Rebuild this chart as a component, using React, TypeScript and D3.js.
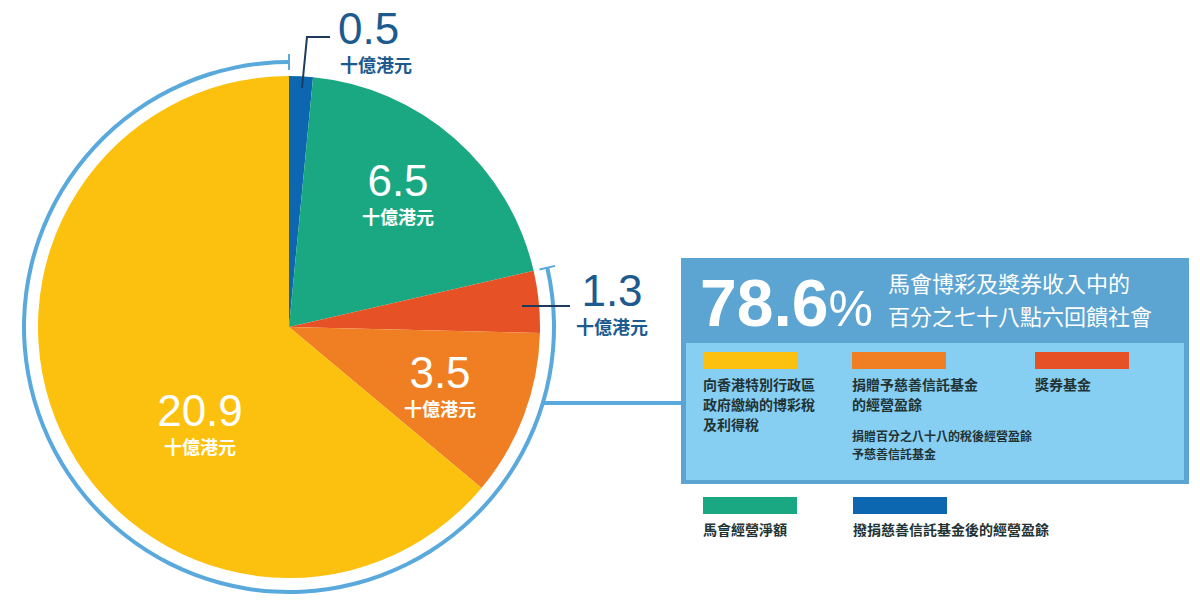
import * as d3 from "d3";

const categories = ["撥捐慈善信託基金後的經營盈餘", "馬會經營淨額", "獎券基金", "捐贈予慈善信託基金的經營盈餘", "向香港特別行政區政府繳納的博彩稅及利得稅"];
const values = [0.5, 6.5, 1.3, 3.5, 20.9];
const colors = ["#0d67b0", "#1aa883", "#e65226", "#ef7f22", "#fbc10e"];
const unit = "十億港元";

const W = 1200, H = 600;
const cx = 289, cy = 327, R = 251, ringR = 265;
const font = "'Liberation Sans', 'Noto Sans CJK TC', sans-serif";
const cjk = "'Noto Sans CJK TC', sans-serif";

export default function App() {
  const pie = d3.pie<number>().sort(null)(values);
  const arc = d3.arc<d3.PieArcDatum<number>>().innerRadius(0).outerRadius(R);
  const ringStart = pie[2].startAngle;
  const ring = d3.arc()({ innerRadius: ringR - 2, outerRadius: ringR + 2, startAngle: ringStart, endAngle: 2 * Math.PI }) as string;
  const pt = (a: number, r: number) => [cx + r * Math.sin(a), cy - r * Math.cos(a)];
  const tickA = (a: number) => { const [x1, y1] = pt(a, ringR - 8); const [x2, y2] = pt(a, ringR + 8); return { x1, y1, x2, y2 }; };
  const total = d3.sum(values);
  const share = (d3.sum(values.slice(2)) / total * 100).toFixed(1);

  const labels = [
    { i: 1, x: 398, y: 196, c: "#fff" },
    { i: 3, x: 440, y: 388, c: "#fff" },
    { i: 4, x: 200, y: 426, c: "#fff" },
    { i: 0, x: 338, y: 44, c: "#1d5a8e" },
    { i: 2, x: 612, y: 306, c: "#1d5a8e" },
  ];
  const legendTop = [
    { i: 4, x: 703, lines: ["向香港特別行政區", "政府繳納的博彩稅", "及利得稅"] },
    { i: 3, x: 852, lines: ["捐贈予慈善信託基金", "的經營盈餘"] },
    { i: 2, x: 1035, lines: ["獎券基金"] },
  ];
  const legendBottom = [
    { i: 1, x: 703, lines: ["馬會經營淨額"] },
    { i: 0, x: 853, lines: ["撥捐慈善信託基金後的經營盈餘"] },
  ];
  const [rx] = pt(Math.PI * 0.6, ringR);

  return (
    <svg width={W} height={H} style={{ position: "absolute", left: 0, top: 0, background: "#fff" }}>
      <g transform={`translate(${cx},${cy})`}>
        {pie.map((p, k) => <path key={k} d={arc(p) as string} fill={colors[k]} />)}
        <path d={ring} fill="#5aa9dc" />
      </g>
      {[ringStart, 0].map((a, k) => { const t = tickA(a); return <line key={k} {...t} stroke="#5aa9dc" strokeWidth={2} />; })}
      <polyline points="302,88 307,37 330,37" fill="none" stroke="#1e3a5f" strokeWidth={2} />
      <line x1={522} y1={306} x2={570} y2={306} stroke="#1e3a5f" strokeWidth={2} />
      <line x1={rx} y1={403} x2={682} y2={403} stroke="#5aa9dc" strokeWidth={4} />
      {labels.map((l) => (
        <g key={l.i} fill={l.c}>
          <text x={l.x} y={l.y} fontFamily={font} fontSize={44} textAnchor={l.i === 0 ? "start" : "middle"}>{values[l.i]}</text>
          <text x={l.i === 0 ? l.x + 2 : l.x} y={l.y + 28} fontFamily={cjk} fontWeight={700} fontSize={18}
            textAnchor={l.i === 0 ? "start" : "middle"}>{unit}</text>
        </g>
      ))}
      <rect x={681} y={258} width={508} height={226} fill="#5ca4d1" />
      <rect x={686} y={343} width={498} height={137} fill="#87cef3" />
      <text x={700} y={326} fill="#fff" fontFamily={font} fontWeight={700} fontSize={66}>
        {share}<tspan fontSize={50} fontWeight={400}>%</tspan>
      </text>
      <text x={888} y={292} fill="#fff" fontFamily={cjk} fontSize={22}>馬會博彩及獎券收入中的</text>
      <text x={888} y={325} fill="#fff" fontFamily={cjk} fontSize={22}>百分之七十八點六回饋社會</text>
      {[...legendTop, ...legendBottom].map((l, k) => {
        const top = k < 3 ? 352 : 497;
        return (
          <g key={k}>
            <rect x={l.x} y={top} width={94} height={17} fill={colors[l.i]} />
            {l.lines.map((s, j) => (
              <text key={j} x={l.x} y={top + 38 + j * 20} fill="#233" fontFamily={cjk} fontWeight={700} fontSize={14}>{s}</text>
            ))}
          </g>
        );
      })}
      <text x={852} y={441} fill="#233" fontFamily={cjk} fontWeight={700} fontSize={12}>捐贈百分之八十八的稅後經營盈餘</text>
      <text x={852} y={459} fill="#233" fontFamily={cjk} fontWeight={700} fontSize={12}>予慈善信託基金</text>
    </svg>
  );
}
